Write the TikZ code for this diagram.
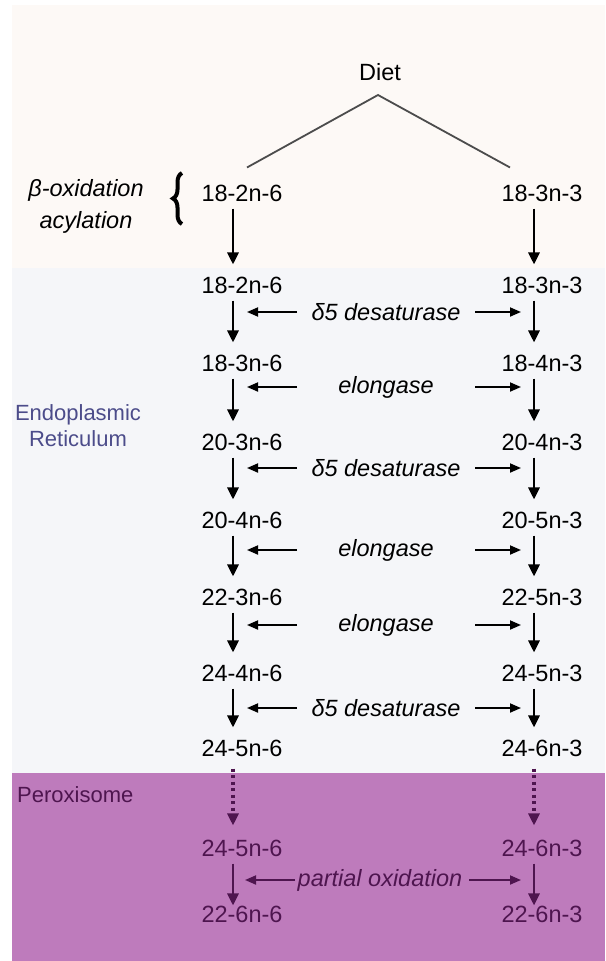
\documentclass[tikz,border=0pt]{standalone}
\usepackage{fontspec}
\setmainfont{Liberation Sans}
\usetikzlibrary{arrows.meta,decorations.pathreplacing}

\definecolor{dietbg}{HTML}{FDF9F6}
\definecolor{erbg}{HTML}{F5F6F9}
\definecolor{peroxbg}{HTML}{BE7BBC}
\definecolor{ertext}{HTML}{4C4C8A}
\definecolor{peroxtext}{HTML}{4E154F}

\begin{document}
\begin{tikzpicture}[x=1pt, y=-1pt,
    fa/.style={font=\fontsize{23.5}{26}\selectfont, inner sep=0pt},
    enz/.style={font=\fontsize{23.5}{26}\selectfont\itshape, inner sep=0pt},
    region/.style={font=\fontsize{22}{26}\selectfont, align=center, inner sep=0pt},
    varr/.style={-{Triangle[length=12pt,width=11pt]}, line width=2.8pt, shorten <=7pt, shorten >=12pt},
    harr/.style={-{Triangle[length=11pt,width=9pt]}, line width=1.8pt},
    dotarr/.style={-{Triangle[length=12pt,width=11pt]}, line width=3.2pt, dash pattern=on 3pt off 3.5pt, shorten <=12pt, shorten >=14pt},
  ]
  \useasboundingbox (0,0) rectangle (605,961);

  % compartments
  \fill[dietbg] (12,5) rectangle (605,268);
  \fill[erbg] (12,268) rectangle (605,773);
  \fill[peroxbg] (12,773) rectangle (605,961);

  % diet
  \node[fa] (diet) at (380,72) {Diet};
  \node[fa] (l0) at (242,193) {18-2n-6};
  \node[fa] (r0) at (542,193) {18-3n-3};
  \coordinate (apex) at (378,95);
  \draw[line width=1.8pt, black!70] ([xshift=5pt,yshift=17pt]l0.north) -- (apex) -- ([xshift=-32pt,yshift=17pt]r0.north);

  \node[enz] (beta) at (86,190) {β-oxidation};
  \node[enz] (acyl) at (86,222) {acylation};
  \draw[decorate, decoration={brace, amplitude=9pt}, line width=4pt] (182,224) -- (182,173);

  % endoplasmic reticulum
  \node[region, text=ertext] (er) at (78,426) {Endoplasmic\\Reticulum};

  \node[fa] (l1) at (242,285) {18-2n-6};
  \node[fa] (l2) at (242,363) {18-3n-6};
  \node[fa] (l3) at (242,442) {20-3n-6};
  \node[fa] (l4) at (242,520) {20-4n-6};
  \node[fa] (l5) at (242,597) {22-3n-6};
  \node[fa] (l6) at (242,673) {24-4n-6};
  \node[fa] (l7) at (242,748) {24-5n-6};

  \node[fa] (r1) at (542,285) {18-3n-3};
  \node[fa] (r2) at (542,363) {18-4n-3};
  \node[fa] (r3) at (542,442) {20-4n-3};
  \node[fa] (r4) at (542,520) {20-5n-3};
  \node[fa] (r5) at (542,597) {22-5n-3};
  \node[fa] (r6) at (542,673) {24-5n-3};
  \node[fa] (r7) at (542,748) {24-6n-3};

  \node[enz] (e1) at (386,312) {δ5 desaturase};
  \node[enz] (e2) at (386,387) {elongase};
  \node[enz] (e3) at (386,468) {δ5 desaturase};
  \node[enz] (e4) at (386,550) {elongase};
  \node[enz] (e5) at (386,625) {elongase};
  \node[enz] (e6) at (386,708) {δ5 desaturase};

  \foreach \a/\b in {l0/l1,l1/l2,l2/l3,l3/l4,l4/l5,l5/l6,l6/l7}
    \draw[varr] ([xshift=-9pt]\a.south) -- ([xshift=-9pt]\b.north);
  \foreach \a/\b in {r0/r1,r1/r2,r2/r3,r3/r4,r4/r5,r5/r6,r6/r7}
    \draw[varr] ([xshift=-8pt]\a.south) -- ([xshift=-8pt]\b.north);
  \foreach \e in {e1,e2,e3,e4,e5,e6} {
    \draw[harr] ([xshift=-89pt]\e.center) -- ([xshift=-139pt]\e.center);
    \draw[harr] ([xshift=89pt]\e.center) -- ([xshift=135pt]\e.center);
  }

  % peroxisome
  \begin{scope}[text=peroxtext, draw=peroxtext, fill=peroxtext]
    \node[region, anchor=west] (perox) at (17,795) {Peroxisome};
    \node[fa] (l8) at (242,848) {24-5n-6};
    \node[fa] (r8) at (542,848) {24-6n-3};
    \node[fa] (l9) at (242,914) {22-6n-6};
    \node[fa] (r9) at (542,914) {22-6n-3};
    \node[enz] (e7) at (380,880) {partial oxidation};

    \draw[dotarr] ([xshift=-9pt]l7.south) -- ([xshift=-9pt]l8.north);
    \draw[dotarr] ([xshift=-8pt]r7.south) -- ([xshift=-8pt]r8.north);
    \draw[varr, shorten >=0pt] ([xshift=-9pt]l8.south) -- ([xshift=-9pt]l9.north);
    \draw[varr, shorten >=0pt] ([xshift=-8pt]r8.south) -- ([xshift=-8pt]r9.north);
    \draw[harr] ([xshift=-85pt]e7.center) -- ([xshift=-135pt]e7.center);
    \draw[harr] ([xshift=89pt]e7.center) -- ([xshift=141pt]e7.center);
  \end{scope}
\end{tikzpicture}
\end{document}
